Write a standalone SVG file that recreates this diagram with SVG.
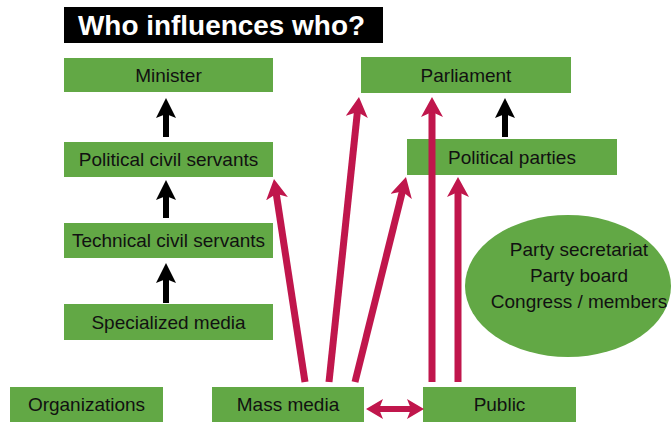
<svg xmlns="http://www.w3.org/2000/svg" width="671" height="422" viewBox="0 0 671 422">
  <style>
    .box { fill: #62a845; }
    .lbl { font-family: "Liberation Sans", Arial, sans-serif; font-size: 19px; fill: #111; text-anchor: middle; }
    .title { font-family: "Liberation Sans", Arial, sans-serif; font-size: 28px; font-weight: bold; fill: #fff; }
    .red { stroke: #c0164c; stroke-width: 7; fill: none; marker-end: url(#redHead); }
    .blk { stroke: #000; stroke-width: 6; fill: none; marker-end: url(#blkHead); }
  </style>
  <defs>
    <marker id="redHead" viewBox="0 0 20 22" refX="6" refY="11" markerWidth="20" markerHeight="22" markerUnits="userSpaceOnUse" orient="auto">
      <path d="M20,11 L0,0 L5,11 L0,22 Z" fill="#c0164c"/>
    </marker>
    <marker id="redHead2" viewBox="0 0 17 20" refX="5" refY="10" markerWidth="17" markerHeight="20" markerUnits="userSpaceOnUse" orient="auto-start-reverse">
      <path d="M17,10 L0,0 L4,10 L0,20 Z" fill="#c0164c"/>
    </marker>
    <marker id="blkHead" viewBox="0 0 20 20" refX="6" refY="10" markerWidth="20" markerHeight="20" markerUnits="userSpaceOnUse" orient="auto">
      <path d="M20,10 L0,0 L4,10 L0,20 Z" fill="#000"/>
    </marker>
  </defs>

  <rect width="671" height="422" fill="#fff"/>

  <!-- heading -->
  <g id="title">
    <rect x="64" y="7" width="319" height="36" fill="#000"/>
    <text class="title" x="78" y="35" textLength="287" lengthAdjust="spacingAndGlyphs">Who influences who?</text>
  </g>

  <g id="minister">
    <rect class="box" x="64" y="58" width="209" height="34"/>
    <text class="lbl" x="168.5" y="82">Minister</text>
  </g>
  <g id="parliament">
    <rect class="box" x="361" y="57" width="210" height="36"/>
    <text class="lbl" x="466" y="82">Parliament</text>
  </g>
  <g id="political-parties">
    <rect class="box" x="407" y="139" width="210" height="36"/>
    <text class="lbl" x="512" y="164">Political parties</text>
  </g>
  <g id="political-civil-servants">
    <rect class="box" x="64" y="142" width="209" height="35"/>
    <text class="lbl" x="168.5" y="166">Political civil servants</text>
  </g>
  <g id="technical-civil-servants">
    <rect class="box" x="64" y="223" width="209" height="35"/>
    <text class="lbl" x="168.5" y="247">Technical civil servants</text>
  </g>
  <g id="specialized-media">
    <rect class="box" x="64" y="304" width="209" height="36"/>
    <text class="lbl" x="168.5" y="329">Specialized media</text>
  </g>
  <g id="party-bodies">
    <ellipse class="box" cx="568" cy="286" rx="103" ry="71"/>
    <text class="lbl" x="579" y="256">Party secretariat</text>
    <text class="lbl" x="579" y="282">Party board</text>
    <text class="lbl" x="579" y="308">Congress / members</text>
  </g>
  <g id="organizations">
    <rect class="box" x="10" y="387" width="153" height="35"/>
    <text class="lbl" x="86.5" y="411">Organizations</text>
  </g>
  <g id="mass-media">
    <rect class="box" x="212" y="387" width="152" height="35"/>
    <text class="lbl" x="288" y="411">Mass media</text>
  </g>
  <g id="public">
    <rect class="box" x="423" y="387" width="153" height="35"/>
    <text class="lbl" x="499.5" y="411">Public</text>
  </g>

  <!-- influence connectors -->
  <g id="connectors">
    <line class="blk" x1="166" y1="137" x2="166" y2="112"/>
    <line class="blk" x1="166" y1="218" x2="166" y2="194"/>
    <line class="blk" x1="166" y1="303" x2="166" y2="277"/>
    <line class="blk" x1="505" y1="137" x2="505" y2="112"/>

    <line class="red" x1="305" y1="382" x2="276.1" y2="192.8"/>
    <line class="red" x1="329" y1="382" x2="357.5" y2="110.9"/>
    <line class="red" x1="355" y1="382" x2="402.6" y2="190.6"/>
    <line class="red" x1="432" y1="382" x2="432" y2="111"/>
    <line class="red" x1="458" y1="382" x2="458" y2="191"/>

    <line x1="378" y1="409" x2="412" y2="409" stroke="#c0164c" stroke-width="6" marker-start="url(#redHead2)" marker-end="url(#redHead2)"/>
  </g>
</svg>
